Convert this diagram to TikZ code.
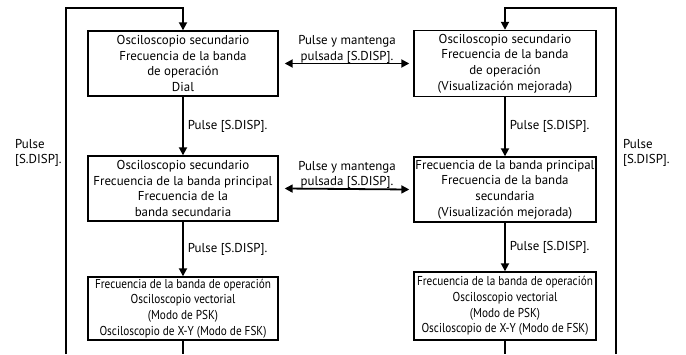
\documentclass[tikz,border=0pt]{standalone}
\usepackage{fontspec}
\setmainfont{PT Sans}
\newfontfamily\condfont[FakeStretch=0.87]{PT Sans}
\usetikzlibrary{arrows.meta,calc}
\tikzset{
  box/.style={draw,line width=1.4pt,align=center,inner sep=0pt,font=\fontsize{12.9}{15.6}\selectfont},
  cbox/.style={box,font=\condfont\fontsize{12.9}{15.6}\selectfont},
  conn/.style={line width=1.8pt},
  arr/.style={conn,-{Triangle[length=8pt,width=8pt]}},
  darr/.style={conn,{Triangle[length=8pt,width=8pt]}-{Triangle[length=8pt,width=8pt]}},
  lbl/.style={align=left,inner sep=0pt,font=\fontsize{12.9}{15.6}\selectfont},
  clbl/.style={align=center,inner sep=0pt,font=\fontsize{12.9}{15.6}\selectfont},
}
\begin{document}
\begin{tikzpicture}[x=1pt,y=-1pt]
\useasboundingbox (0,0) rectangle (686,354);
% left column
\node[box,minimum width=190pt,minimum height=65pt] (b1) at (183,63.5)
  {Osciloscopio secundario\\Frecuencia de la banda\\de operación\\Dial};
\node[box,minimum width=190pt,minimum height=65pt] (b2) at (183,188.5)
  {Osciloscopio secundario\\Frecuencia de la banda principal\\Frecuencia de la\\banda secundaria};
\node[cbox,minimum width=190pt,minimum height=63pt] (b3) at (183,308.5)
  {Frecuencia de la banda de operación\\Osciloscopio vectorial\\(Modo de PSK)\\Osciloscopio de X-Y (Modo de FSK)};
% right column
\node[box,minimum width=182pt,minimum height=66pt] (r1) at (505,63.5)
  {Osciloscopio secundario\\Frecuencia de la banda\\de operación\\(Visualización mejorada)};
\node[box,minimum width=182pt,minimum height=65pt] (r2) at (505,189.5)
  {Frecuencia de la banda principal\\Frecuencia de la banda\\secundaria\\(Visualización mejorada)};
\node[cbox,minimum width=182pt,minimum height=68pt] (r3) at (505,306)
  {Frecuencia de la banda de operación\\Osciloscopio vectorial\\(Modo de PSK)\\Osciloscopio de X-Y (Modo de FSK)};
% loop coordinates
\coordinate (lb) at (66,354);
\coordinate (lt) at (66,8);
\coordinate (lbb) at (183,354);
\coordinate (rb) at (616,354);
\coordinate (rt) at (616,8);
\coordinate (rbb) at (505,354);
% vertical arrows
\draw[arr] (b1) -- node[lbl,right=4pt] {Pulse [S.DISP].} (b2);
\draw[arr] (b2) -- node[lbl,right=4pt] {Pulse [S.DISP].} (b3);
\draw[arr] (r1) -- node[lbl,right=4pt] {Pulse [S.DISP].} (r2);
\draw[arr] (r2) -- node[lbl,right=4pt] {Pulse [S.DISP].} (r3);
% loops
\draw[conn] (b3.south) -- (lbb);
\draw[arr] (lb) -- (lt) -| (b1.north);
\draw[conn] (r3.south) -- (rbb);
\draw[arr] (rb) -- (rt) -| (r1.north);
\node[lbl,anchor=west] (ll) at (15,153) {Pulse\\{[S.DISP].}};
\node[lbl,anchor=west] (rl) at (623,153) {Pulse\\{[S.DISP].}};
% double arrows
\draw[darr] ([xshift=6pt]b1.east) -- node[clbl,above=-0.5pt] (m1) {Pulse y mantenga\\pulsada [S.DISP].} ([xshift=-4pt]r1.west);
\draw[darr] ([xshift=6pt]b2.east) -- node[clbl,above=-0.5pt] (m2) {Pulse y mantenga\\pulsada [S.DISP].} ([xshift=-4pt]r2.west);
\end{tikzpicture}
\end{document}
